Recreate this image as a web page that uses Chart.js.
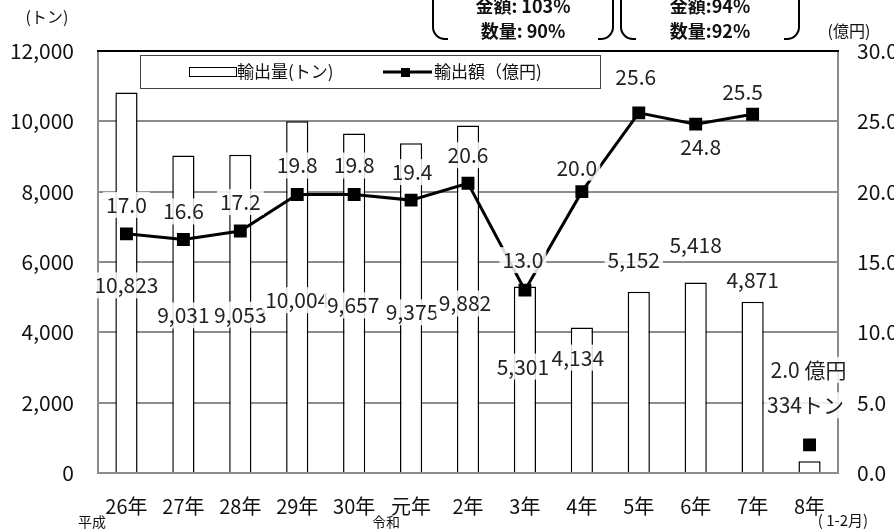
<!DOCTYPE html>
<html>
<head>
<meta charset="utf-8">
<script src="https://cdn.jsdelivr.net/npm/chart.js@4/dist/chart.umd.min.js"></script>
<style>
  body { margin: 0; background: #fff; }
  canvas { display: block; }
</style>
</head>
<body>
<canvas id="chart" width="894" height="532"></canvas>
<script>
const years = ["26年", "27年", "28年", "29年", "30年", "元年", "2年", "3年", "4年", "5年", "6年", "7年", "8年"];
const tonnes = [10823, 9031, 9053, 10004, 9657, 9375, 9882, 5301, 4134, 5152, 5418, 4871, 334];
const amounts = [17.0, 16.6, 17.2, 19.8, 19.8, 19.4, 20.6, 13.0, 20.0, 25.6, 24.8, 25.5, 2.0];
const tonTicks = [0, 2000, 4000, 6000, 8000, 10000, 12000];
const yenTicks = [0, 5, 10, 15, 20, 25, 30];

// label shifts (px) from each mark
const barLabelShift = [[0, 193], [0, 160], [0, 160], [0, 179], [-1, 172], [1, 169], [-3, 178],
  [-2, 80], [-4, 30], [-5, -32], [0, -37], [0, -22], [-4, -56]];
const lineLabelShift = [[0, -29], [0, -28], [0, -29], [0, -29], [0, -29], [1, -28], [0, -28],
  [-2, -30], [-5, -24], [-3, -36], [5, 23], [-10, -22], [-1, -75]];

const numFont = "'Noto Sans CJK JP', sans-serif";
const jpFont = "'Noto Sans CJK JP', sans-serif";
const gridGray = "#8c8c8c";

function barLabel(i) {
  return i === tonnes.length - 1 ? tonnes[i] + "トン" : tonnes[i].toLocaleString("en-US");
}
function lineLabel(i) {
  return i === amounts.length - 1 ? amounts[i].toFixed(1) + " 億円" : amounts[i].toFixed(1);
}

function drawTag(ctx, text, x, y) {
  ctx.font = "21px " + numFont;
  const w = ctx.measureText(text).width;
  ctx.fillStyle = "rgba(255,255,255,0.85)";
  ctx.fillRect(x - w / 2 - 3, y - 13, w + 6, 26);
  ctx.fillStyle = "#222";
  ctx.textAlign = "center";
  ctx.textBaseline = "middle";
  ctx.fillText(text, x, y);
}

function bracketBox(ctx, left, right, bottom, r) {
  ctx.beginPath();
  ctx.moveTo(left, 0);
  ctx.lineTo(left, bottom - r);
  ctx.arcTo(left, bottom, left + r, bottom, r);
  ctx.lineTo(left + r + 3, bottom);
  ctx.moveTo(right, 0);
  ctx.lineTo(right, bottom - r);
  ctx.arcTo(right, bottom, right - r, bottom, r);
  ctx.lineTo(right - r - 3, bottom);
  ctx.stroke();
}

const extras = {
  id: "extras",
  afterDatasetsDraw(chart) {
    const ctx = chart.ctx;
    ctx.save();
    // top border of the plot
    const a = chart.chartArea;
    ctx.strokeStyle = "#000";
    ctx.lineWidth = 2;
    ctx.beginPath();
    ctx.moveTo(a.left - 1, a.top);
    ctx.lineTo(a.right + 1, a.top);
    ctx.stroke();

    const bars = chart.getDatasetMeta(0).data;
    const pts = chart.getDatasetMeta(1).data;
    bars.forEach((b, i) => {
      drawTag(ctx, barLabel(i), b.x + barLabelShift[i][0], b.y + barLabelShift[i][1]);
    });
    pts.forEach((p, i) => {
      drawTag(ctx, lineLabel(i), p.x + lineLabelShift[i][0], p.y + lineLabelShift[i][1]);
    });
    ctx.restore();
  },
  afterDraw(chart) {
    const ctx = chart.ctx;
    ctx.save();
    // legend
    ctx.strokeStyle = "#444";
    ctx.lineWidth = 1;
    ctx.strokeRect(140.5, 55.5, 460, 33);
    ctx.strokeStyle = "#000";
    ctx.strokeRect(189.5, 67.5, 47, 9);
    ctx.lineWidth = 3;
    ctx.beginPath();
    ctx.moveTo(383, 72);
    ctx.lineTo(432, 72);
    ctx.stroke();
    ctx.fillStyle = "#000";
    ctx.fillRect(401, 68, 9, 9);
    ctx.font = "17px " + jpFont;
    ctx.textAlign = "left";
    ctx.textBaseline = "middle";
    ctx.fillStyle = "#111";
    ctx.fillText(chart.data.datasets[0].label, 237, 72);
    ctx.fillText(chart.data.datasets[1].label, 434, 72);

    // unit titles
    ctx.font = "16px " + jpFont;
    ctx.textAlign = "center";
    ctx.fillText("(トン)", 47, 17);
    ctx.fillText("(億円)", 849, 31);

    // era notes
    ctx.font = "14px " + jpFont;
    ctx.fillText("平成", 92, 522);
    ctx.fillText("令和", 386, 522);
    ctx.font = "15px " + jpFont;
    ctx.fillText("( 1-2月)", 843, 520);

    // comparison boxes (cut at the top)
    ctx.strokeStyle = "#000";
    ctx.lineWidth = 2;
    bracketBox(ctx, 433, 613, 39, 12);
    bracketBox(ctx, 621, 799, 39, 12);
    ctx.font = "bold 18px " + jpFont;
    ctx.fillStyle = "#111";
    ctx.fillText("金額: 103%", 523, 6);
    ctx.fillText("数量: 90%", 523, 31);
    ctx.fillText("金額:94%", 710, 6);
    ctx.fillText("数量:92%", 710, 31);
    ctx.restore();
  }
};

new Chart(document.getElementById("chart"), {
  data: {
    labels: years,
    datasets: [
      {
        type: "bar",
        label: "輸出量(トン)",
        data: tonnes,
        yAxisID: "y",
        backgroundColor: "#fff",
        borderColor: "#000",
        borderWidth: 1.5,
        barPercentage: 0.39,
        categoryPercentage: 1,
        order: 2
      },
      {
        type: "line",
        label: "輸出額（億円)",
        data: amounts,
        yAxisID: "y1",
        borderColor: "#000",
        borderWidth: 3,
        pointStyle: "rect",
        pointRadius: 7,
        pointBackgroundColor: "#000",
        pointBorderColor: "#000",
        tension: 0,
        segment: {
          borderColor: (c) => (c.p1DataIndex === amounts.length - 1 ? "rgba(0,0,0,0)" : "#000")
        },
        order: 1
      }
    ]
  },
  options: {
    responsive: false,
    animation: false,
    layout: { padding: { top: 51, left: 0, right: 0, bottom: 0 } },
    plugins: { legend: { display: false }, tooltip: { enabled: false } },
    scales: {
      x: {
        grid: { display: false, drawTicks: false },
        border: { color: gridGray, width: 2 },
        ticks: { color: "#111", font: { family: numFont, size: 20 }, padding: 21, maxRotation: 0 },
        afterFit: (s) => { s.height = 59; }
      },
      y: {
        position: "left",
        min: 0,
        max: 12000,
        afterBuildTicks: (s) => { s.ticks = tonTicks.map((v) => ({ value: v })); },
        grid: { color: (c) => (c.tick && c.tick.value === 12000 ? "#000" : gridGray), lineWidth: 2, drawTicks: false },
        border: { color: gridGray, width: 2 },
        ticks: { color: "#111", font: { family: numFont, size: 21 }, padding: 24,
          callback: (v) => v.toLocaleString("en-US") },
        afterFit: (s) => { s.width = 98; }
      },
      y1: {
        position: "right",
        min: 0,
        max: 30,
        afterBuildTicks: (s) => { s.ticks = yenTicks.map((v) => ({ value: v })); },
        grid: { display: false, drawTicks: false },
        border: { color: gridGray, width: 2 },
        ticks: { color: "#111", font: { family: numFont, size: 21 }, padding: 19,
          callback: (v) => v.toFixed(1) },
        afterFit: (s) => { s.width = 56; }
      }
    }
  },
  plugins: [extras]
});
</script>
</body>
</html>
